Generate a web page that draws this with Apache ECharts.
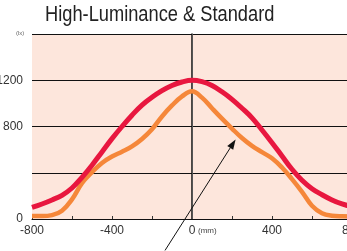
<!DOCTYPE html>
<html>
<head>
<meta charset="utf-8">
<script src="https://cdn.jsdelivr.net/npm/echarts@6/dist/echarts.min.js"></script>
<style>
  html, body { margin: 0; padding: 0; background: #fff; overflow: hidden; }
  #chart { width: 360px; height: 251px; }
</style>
</head>
<body>
<div id="chart"></div>
<script>
// distance from centre (mm)
const positions = [-800, -750, -700, -650, -600, -550, -500, -450, -400, -350, -300, -250, -200, -150, -100, -50,
  0, 50, 100, 150, 200, 250, 300, 350, 400, 450, 500, 550, 600, 650, 700, 750, 800]
// illuminance (lx)
const highLuminance = [100, 130, 165, 205, 268, 360, 465, 580, 695, 800, 898, 985, 1053, 1110, 1155, 1185,
  1200, 1188, 1155, 1100, 1035, 958, 875, 770, 660, 545, 430, 335, 262, 210, 165, 130, 105]
const standard = [25, 25, 33, 72, 170, 310, 405, 485, 540, 582, 628, 692, 776, 887, 982, 1060,
  1105, 1050, 958, 868, 782, 700, 632, 578, 525, 445, 345, 235, 115, 50, 28, 23, 22]
const yLabels = [0, 800, 1200]
const xLabels = [-800, -400, 0, 400, 800]
const title = 'High-Luminance & Standard'
// arrow annotation, in data units [mm, lx]
const arrowFrom = [-135, -272]
const arrowTo = [218, 688]

const font = "'Liberation Sans', Arial, sans-serif"

const chart = echarts.init(document.getElementById('chart'))

const option = {
  animation: false,
  grid: {
    left: 32,
    right: 8,
    top: 34,
    bottom: 32,
    containLabel: false,
    outerBoundsMode: 'none',
    show: true,
    backgroundColor: '#fde6dc',
    borderWidth: 0
  },
  xAxis: {
    type: 'value',
    min: -800,
    max: 800,
    interval: 200,
    axisLine: { show: true, onZero: false, lineStyle: { color: '#111', width: 1 } },
    axisTick: { show: true, inside: true, length: 3, lineStyle: { color: '#333' } },
    axisLabel: {
      margin: 6,
      color: '#333',
      fontFamily: font,
      fontSize: 12,
      showMaxLabel: true,
      formatter: v => xLabels.includes(v) ? String(v) : ''
    },
    splitLine: { show: false }
  },
  yAxis: {
    type: 'value',
    min: 0,
    max: 1600,
    interval: 400,
    axisLine: { show: true, lineStyle: { color: '#111', width: 1.5 } },
    axisTick: { show: false },
    axisLabel: {
      margin: 9,
      color: '#333',
      fontFamily: font,
      fontSize: 12,
      formatter: v => yLabels.includes(v) ? String(v) : ''
    },
    splitLine: { show: true, lineStyle: { color: '#111', width: 1 } }
  },
  series: [
    {
      name: 'High-Luminance',
      type: 'line',
      smooth: 0.4,
      showSymbol: false,
      lineStyle: { color: '#e8173f', width: 5 },
      data: positions.map((x, i) => [x, highLuminance[i]]),
      markLine: {
        silent: true,
        symbol: ['none', 'none'],
        label: { show: false },
        lineStyle: { color: '#555', type: 'solid', width: 1 },
        data: [{ xAxis: 0 }],
        z: 1
      },
      z: 3
    },
    {
      name: 'Standard',
      type: 'line',
      smooth: 0.4,
      showSymbol: false,
      lineStyle: { color: '#f5873a', width: 4.5 },
      data: positions.map((x, i) => [x, standard[i]]),
      z: 2
    }
  ]
}

chart.setOption(option)

// title (condensed), units and arrow
const p0 = chart.convertToPixel({ gridIndex: 0 }, [0, 0])
const a = chart.convertToPixel({ gridIndex: 0 }, arrowFrom)
const b = chart.convertToPixel({ gridIndex: 0 }, arrowTo)
const ang = Math.atan2(b[1] - a[1], b[0] - a[0])
const headLen = 10, headW = 3.5
const base = [b[0] - headLen * Math.cos(ang), b[1] - headLen * Math.sin(ang)]
const nx = -Math.sin(ang), ny = Math.cos(ang)

chart.setOption({
  graphic: [
    {
      type: 'text', x: 45, y: 4, scaleX: 0.83,
      style: { text: title, font: '22px ' + font, fill: '#222' }
    },
    {
      type: 'text', left: 16, top: 30,
      style: { text: '(lx)', font: '6px ' + font, fill: '#666' }
    },
    {
      type: 'text', x: p0[0] + 6, y: p0[1] + 12,
      style: { text: '(mm)', font: '8px ' + font, fill: '#444', verticalAlign: 'middle' }
    },
    {
      type: 'line', z: 10,
      shape: { x1: a[0], y1: a[1], x2: base[0], y2: base[1] },
      style: { stroke: '#111', lineWidth: 1 }
    },
    {
      type: 'polygon', z: 10,
      shape: { points: [b, [base[0] + nx * headW, base[1] + ny * headW], [base[0] - nx * headW, base[1] - ny * headW]] },
      style: { fill: '#111' }
    }
  ]
})
</script>
</body>
</html>
